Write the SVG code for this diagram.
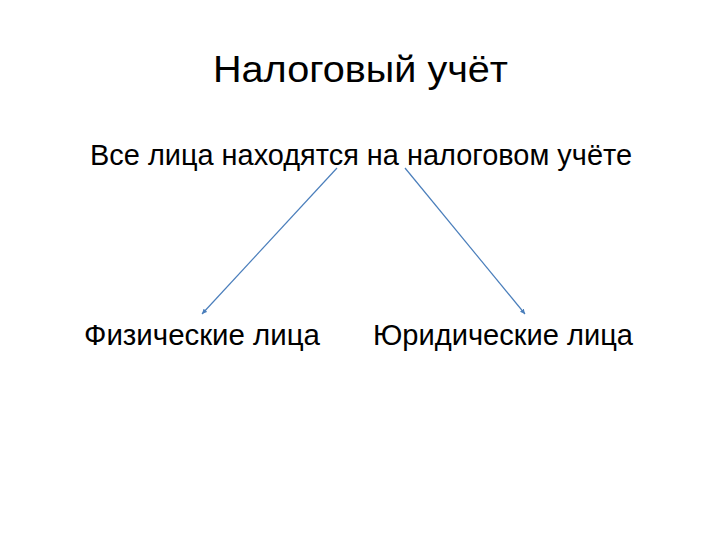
<svg xmlns="http://www.w3.org/2000/svg" width="720" height="540" viewBox="0 0 720 540">
<defs>
<marker id="ah" markerWidth="6" markerHeight="6" refX="5" refY="3" orient="auto" markerUnits="userSpaceOnUse">
<path d="M0,0.5 L5,3 L0,5.5 Z" fill="#4a7ebb"/>
</marker>
<style>
text{font-family:"Liberation Sans",Arial,sans-serif;fill:#000;}
.c{stroke:#4a7ebb;stroke-width:1.2;fill:none;marker-end:url(#ah);}
</style>
</defs>
<rect width="720" height="540" fill="#fff"/>
<g id="title"><text x="213" y="82" font-size="37" textLength="295" lengthAdjust="spacingAndGlyphs">Налоговый учёт</text></g>
<g id="root"><text x="90" y="165" font-size="29" textLength="542" lengthAdjust="spacingAndGlyphs">Все лица находятся на налоговом учёте</text></g>
<g id="phys"><text x="84" y="345" font-size="29" textLength="236" lengthAdjust="spacingAndGlyphs">Физические лица</text></g>
<g id="jur"><text x="373" y="345" font-size="29" textLength="260" lengthAdjust="spacingAndGlyphs">Юридические лица</text></g>
<g id="connectors">
<line class="c" x1="337" y1="168" x2="202" y2="314"/>
<line class="c" x1="405" y1="168" x2="525" y2="314"/>
</g>
</svg>
